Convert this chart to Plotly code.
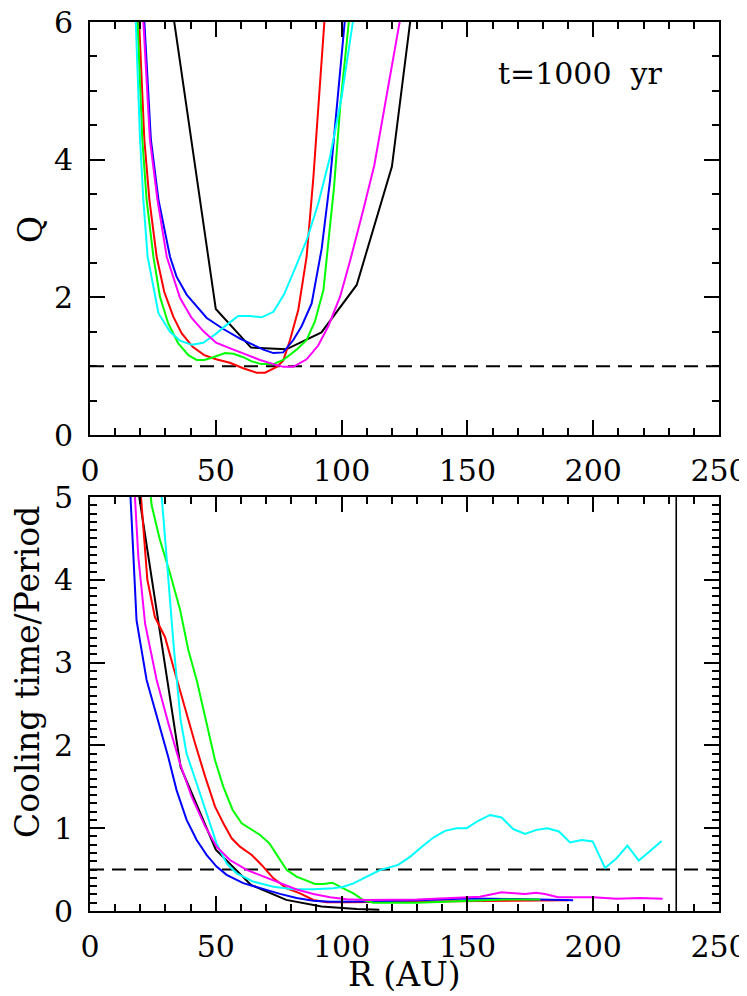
import plotly.graph_objects as go

# ---------------- data: top panel (Q vs R) ----------------
q_black_R = [22, 36, 50, 64, 78, 92, 106, 120, 134]
q_black_Q = [8.9, 5.37, 1.83, 1.27, 1.245, 1.49, 2.18, 3.9, 7.96]

q_red_R = [18.3, 21.6, 23.6, 26.5, 29.5, 33.1, 36.4, 40.8, 45.4, 50.1, 55.6, 60.9, 66.2, 69.6, 74.2, 76.8, 79.5, 82.8, 86.1, 88.8, 94.5]
q_red_Q = [7.0, 4.29, 3.42, 2.59, 2.08, 1.72, 1.48, 1.28, 1.16, 1.10, 1.05, 0.97, 0.906, 0.906, 0.99, 1.08, 1.38, 1.82, 2.59, 3.75, 6.7]

q_green_R = [17.8, 20.8, 22.5, 25.2, 27.8, 31.1, 35.1, 39.1, 42.4, 45.4, 49.0, 53.7, 57.0, 60.9, 64.3, 68.2, 72.9, 76.8, 82.1, 86.1, 89.4, 92.8, 94.7, 97.0, 99.5, 104.0]
q_green_Q = [7.0, 4.29, 3.42, 2.59, 2.01, 1.62, 1.33, 1.16, 1.09, 1.09, 1.13, 1.19, 1.18, 1.13, 1.07, 1.03, 1.03, 1.09, 1.24, 1.38, 1.65, 2.11, 2.79, 3.6, 4.8, 6.4]

q_blue_R = [20.1, 24.2, 27.2, 31.8, 34.4, 38.4, 46.4, 53.0, 59.6, 64.9, 68.9, 72.9, 76.8, 80.8, 84.1, 88.1, 92.1, 95.4, 98.7, 102.5]
q_blue_Q = [7.0, 4.29, 3.42, 2.59, 2.30, 2.04, 1.70, 1.54, 1.40, 1.31, 1.24, 1.19, 1.20, 1.38, 1.58, 1.91, 2.71, 3.7, 4.97, 6.5]

q_magenta_R = [19.7, 23.8, 26.8, 30.5, 35.8, 40.4, 45.0, 50.1, 57.0, 62.3, 67.6, 72.9, 76.8, 80.8, 86.1, 90.7, 94.7, 99.4, 103.3, 108.6, 113.0, 125.0]
q_magenta_Q = [7.0, 4.29, 3.42, 2.59, 1.99, 1.70, 1.51, 1.34, 1.24, 1.16, 1.09, 1.03, 0.99, 0.99, 1.10, 1.30, 1.58, 2.01, 2.52, 3.27, 3.92, 6.4]

q_cyan_R = [17.2, 19.9, 21.2, 22.9, 27.2, 31.8, 35.8, 40.4, 45.0, 49.7, 54.3, 58.9, 63.5, 68.2, 72.9, 77.1, 81.5, 86.1, 90.7, 95.4, 100.0, 105.5]
q_cyan_Q = [7.0, 4.29, 3.42, 2.59, 1.77, 1.50, 1.37, 1.31, 1.34, 1.46, 1.60, 1.73, 1.73, 1.71, 1.79, 2.04, 2.42, 2.83, 3.36, 4.04, 4.91, 6.25]

# ---------------- data: bottom panel (Cooling time / Period vs R) ----------------
c_black_R = [8, 22, 36, 50, 64, 78, 92, 106, 115]
c_black_C = [7.3, 4.5, 1.74, 0.74, 0.316, 0.134, 0.055, 0.025, 0.015]

c_red_R = [18.5, 22.8, 25.8, 29.8, 33.1, 37.1, 41.8, 45.8, 49.7, 53.0, 56.3, 59.6, 64.3, 68.2, 72.9, 78.2, 83.5, 88.8, 94.1, 102.0, 120.0, 140.0, 160.0, 180.0, 190.0]
c_red_C = [5.7, 4.0, 3.55, 3.31, 2.95, 2.51, 2.02, 1.62, 1.26, 1.06, 0.878, 0.777, 0.676, 0.556, 0.395, 0.274, 0.213, 0.133, 0.105, 0.105, 0.11, 0.12, 0.13, 0.13, 0.13]

c_green_R = [23.0, 24.5, 27.8, 31.8, 35.8, 39.1, 42.4, 45.8, 49.7, 53.0, 56.7, 60.3, 64.3, 67.6, 71.3, 74.9, 78.2, 82.1, 86.1, 89.4, 92.8, 96.3, 100.7, 104.7, 108.6, 112.6, 130.0, 150.0, 165.0, 179.0]
c_green_C = [5.4, 4.90, 4.48, 4.08, 3.64, 3.15, 2.79, 2.35, 1.82, 1.50, 1.22, 1.06, 0.98, 0.918, 0.817, 0.657, 0.496, 0.415, 0.367, 0.326, 0.326, 0.342, 0.274, 0.213, 0.133, 0.101, 0.10, 0.12, 0.14, 0.14]

c_blue_R = [14.5, 18.5, 22.5, 27.2, 31.1, 34.4, 38.4, 42.4, 46.4, 50.3, 54.3, 60.9, 68.9, 75.5, 82.1, 88.8, 95.4, 110.0, 130.0, 150.0, 170.0, 192.0]
c_blue_C = [6.0, 3.51, 2.79, 2.27, 1.86, 1.46, 1.10, 0.858, 0.676, 0.536, 0.437, 0.336, 0.264, 0.207, 0.156, 0.124, 0.112, 0.115, 0.13, 0.15, 0.145, 0.13]

c_magenta_R = [16.0, 19.2, 21.9, 26.5, 31.1, 35.8, 40.4, 45.8, 50.3, 55.6, 62.3, 68.9, 75.5, 82.1, 88.8, 95.4, 102.0, 110.0, 130.0, 149.7, 155.0, 163.6, 172.9, 177.3, 180.8, 186.1, 200.0, 209.3, 218.6, 227.6]
c_magenta_C = [6.0, 4.28, 3.47, 2.79, 2.27, 1.78, 1.38, 1.02, 0.777, 0.616, 0.496, 0.415, 0.335, 0.26, 0.205, 0.165, 0.141, 0.133, 0.14, 0.165, 0.173, 0.225, 0.205, 0.221, 0.205, 0.165, 0.165, 0.149, 0.157, 0.149]

c_cyan_R = [26.0, 33.4, 36.0, 38.4, 42.4, 46.4, 50.3, 54.3, 58.3, 64.9, 72.9, 80.8, 88.8, 96.7, 100.7, 104.7, 110.0, 115.3, 122.5, 127.2, 131.8, 136.5, 141.1, 145.7, 149.7, 154.3, 159.0, 163.6, 168.2, 172.9, 177.5, 181.8, 186.4, 190.8, 195.4, 199.8, 204.7, 209.1, 213.6, 218.1, 222.6, 227.2]
c_cyan_C = [5.95, 3.15, 2.31, 1.90, 1.54, 1.18, 0.817, 0.575, 0.455, 0.355, 0.294, 0.262, 0.262, 0.274, 0.294, 0.334, 0.415, 0.495, 0.557, 0.654, 0.774, 0.887, 0.968, 1.0, 1.0, 1.09, 1.16, 1.13, 0.99, 0.93, 0.98, 1.0, 0.96, 0.829, 0.857, 0.84, 0.52, 0.63, 0.79, 0.61, 0.724, 0.845]

q_threshold = 1.0
c_threshold = 0.5
r_outer = 233
x_ticks = [0, 50, 100, 150, 200, 250]
annot_text = "t=1000\u00a0\u00a0yr"
annot_R, annot_Q = 195, 5.25

FONT = "DejaVu Serif"
# page body has an 8px margin; figure sized to fit inside the 747x996 window
W, H = 739, 988
ML, MR, MT, MB = 82, 28, 14, 85
# plot area in window pixels: x 90..719, y 22..911
PX0, PX1, PY0, PY1 = 90, 719, 22, 911


def py(pix):
    return (PY1 - pix) / (PY1 - PY0)


def px(pix):
    return (pix - PX0) / (PX1 - PX0)


TOP_DOM = [py(435), 1]
BOT_DOM = [0, py(497)]

fig = go.Figure()

top_series = [
    (q_black_R, q_black_Q, "black"),
    (q_red_R, q_red_Q, "#ff0000"),
    (q_blue_R, q_blue_Q, "#0000ff"),
    (q_green_R, q_green_Q, "#00ff00"),
    (q_cyan_R, q_cyan_Q, "#00ffff"),
    (q_magenta_R, q_magenta_Q, "#ff00ff"),
]
bot_series = [
    (c_black_R, c_black_C, "black"),
    (c_red_R, c_red_C, "#ff0000"),
    (c_blue_R, c_blue_C, "#0000ff"),
    (c_green_R, c_green_C, "#00ff00"),
    (c_cyan_R, c_cyan_C, "#00ffff"),
    (c_magenta_R, c_magenta_C, "#ff00ff"),
]

# invisible traces so that the minor-tick overlay subplots exist
fig.add_trace(go.Scatter(x=[None], y=[None], xaxis="x3", yaxis="y3", showlegend=False, hoverinfo="skip"))
fig.add_trace(go.Scatter(x=[None], y=[None], xaxis="x4", yaxis="y4", showlegend=False, hoverinfo="skip"))

# dashed thresholds
fig.add_trace(go.Scatter(x=[0, 250], y=[q_threshold, q_threshold], mode="lines",
                         line=dict(color="black", width=2, dash="14px,8px"),
                         xaxis="x", yaxis="y", showlegend=False))
fig.add_trace(go.Scatter(x=[0, 250], y=[c_threshold, c_threshold], mode="lines",
                         line=dict(color="black", width=2, dash="14px,8px"),
                         xaxis="x2", yaxis="y2", showlegend=False))

for xs, ys, col in top_series:
    fig.add_trace(go.Scatter(x=xs, y=ys, mode="lines", line=dict(color=col, width=2),
                             xaxis="x", yaxis="y", showlegend=False))
for xs, ys, col in bot_series:
    fig.add_trace(go.Scatter(x=xs, y=ys, mode="lines", line=dict(color=col, width=2),
                             xaxis="x2", yaxis="y2", showlegend=False))

# vertical line in bottom panel
fig.add_trace(go.Scatter(x=[r_outer, r_outer], y=[0, 5], mode="lines",
                         line=dict(color="black", width=1.6),
                         xaxis="x2", yaxis="y2", showlegend=False))

tickfont = dict(family=FONT, size=30, color="black")
TFONT = dict(family=FONT, size=33, color="black")


def major_x(anchor):
    return dict(range=[0, 250], domain=[0, 1], anchor=anchor,
                showline=True, linecolor="black", linewidth=2, mirror="allticks",
                ticks="inside", ticklen=15, tickwidth=2, tickcolor="black",
                tickvals=x_ticks, ticktext=[str(v) for v in x_ticks],
                showgrid=False, zeroline=False, tickfont=tickfont,
                ticklabelstandoff=8, ticklabeloverflow="allow", automargin=False)


def minor_x(anchor, over):
    return dict(range=[0, 250], domain=[0, 1], anchor=anchor, overlaying=over,
                showline=False, mirror="allticks",
                ticks="inside", ticklen=7, tickwidth=1.5, tickcolor="black",
                tickmode="linear", tick0=0, dtick=10, showticklabels=False,
                showgrid=False, zeroline=False, automargin=False)


def major_y(anchor, rng, dtick, dom):
    return dict(range=rng, domain=dom, anchor=anchor,
                showline=True, linecolor="black", linewidth=2, mirror="allticks",
                ticks="inside", ticklen=15, tickwidth=2, tickcolor="black",
                tickmode="linear", tick0=0, dtick=dtick,
                showgrid=False, zeroline=False, tickfont=tickfont,
                ticklabelstandoff=9, ticklabeloverflow="allow", automargin=False)


def minor_y(anchor, over, rng, dtick, dom):
    return dict(range=rng, domain=dom, anchor=anchor, overlaying=over,
                showline=False, mirror="allticks",
                ticks="inside", ticklen=7, tickwidth=1.5, tickcolor="black",
                tickmode="linear", tick0=0, dtick=dtick, showticklabels=False,
                showgrid=False, zeroline=False, automargin=False)


fig.update_layout(
    width=W, height=H,
    margin=dict(l=ML, r=MR, t=MT, b=MB, autoexpand=False),
    paper_bgcolor="white", plot_bgcolor="white",
    font=dict(family=FONT, color="black"),
    xaxis=major_x("y"),
    yaxis=major_y("x", [0, 6], 2, TOP_DOM),
    xaxis2=major_x("y2"),
    yaxis2=major_y("x2", [0, 5], 1, BOT_DOM),
    xaxis3=minor_x("y3", "x"),
    yaxis3=minor_y("x3", "y", [0, 6], 0.5, TOP_DOM),
    xaxis4=minor_x("y4", "x2"),
    yaxis4=minor_y("x4", "y2", [0, 5], 0.1, BOT_DOM),
    annotations=[
        dict(text=annot_text, x=annot_R, y=annot_Q, xref="x", yref="y", showarrow=False,
             font=dict(family=FONT, size=30, color="black"), xanchor="center", yanchor="middle"),
        dict(text="Q", x=px(31), y=py(230), xref="paper", yref="paper", showarrow=False,
             textangle=-90, font=TFONT, xanchor="center", yanchor="middle"),
        dict(text="Cooling time/Period", x=px(27), y=py(672), xref="paper", yref="paper",
             showarrow=False, textangle=-90, font=TFONT, xanchor="center", yanchor="middle"),
        dict(text="R (AU)", x=px(405), y=py(974), xref="paper", yref="paper", showarrow=False,
             font=TFONT, xanchor="center", yanchor="middle"),
    ],
)

fig.write_html("out.html")
